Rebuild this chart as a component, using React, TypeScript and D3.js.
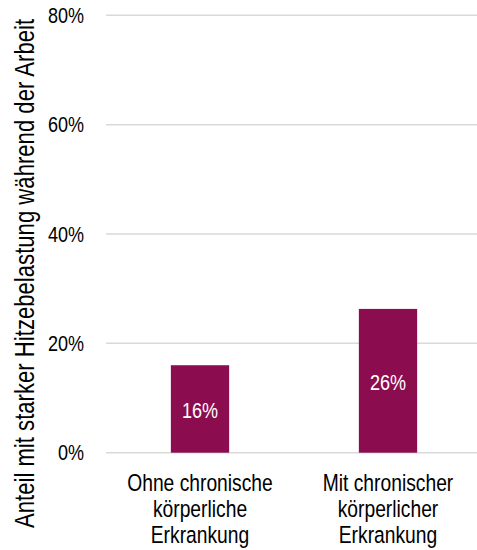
import React from 'react'
import * as d3 from 'd3'

const categories = [
  ['Ohne chronische', 'körperliche', 'Erkrankung'],
  ['Mit chronischer', 'körperlicher', 'Erkrankung'],
]
const values = [0.16, 0.263]
const labels = ['16%', '26%']
const yTicks = [0, 0.2, 0.4, 0.6, 0.8]
const yTitle = 'Anteil mit starker Hitzebelastung während der Arbeit'

const W = 477
const H = 550
const FONT = '"Liberation Sans", Arial, sans-serif'
const SX = 0.82 // narrow look, like Arial Narrow

// text drawn squeezed horizontally
function NText({ x, y, rot = 0, size, anchor = 'middle', fill = '#000', children }: any) {
  return (
    <text transform={`translate(${x},${y}) rotate(${rot}) scale(${SX},1)`} textAnchor={anchor}
      fontSize={size} fill={fill} dy="0.35em">
      {children}
    </text>
  )
}

export default function App() {
  const x = d3.scaleBand<number>()
    .domain(d3.range(values.length))
    .range([106, 482])
    .paddingInner(0.69)
    .paddingOuter(0.345)
  const y = d3.scaleLinear().domain([0, 0.8]).range([452.7, 15.3])

  return (
    <svg width={W} height={H} style={{ position: 'absolute', left: 0, top: 0 }} fontFamily={FONT}>
      {/* gridlines + tick labels */}
      {yTicks.map(t => (
        <g key={t}>
          <line x1={106} x2={W} y1={y(t)} y2={y(t)} stroke="#d9d9d9" strokeWidth={1.5} />
          <NText x={84} y={y(t)} size={22} anchor="end">{d3.format('.0%')(t)}</NText>
        </g>
      ))}

      {/* bars */}
      {values.map((v, i) => {
        const cx = x(i)! + x.bandwidth() / 2
        return (
          <g key={i}>
            <rect x={x(i)} y={y(v)} width={x.bandwidth()} height={y(0) - y(v)} fill="#8c0d4f" />
            <NText x={cx} y={(y(v) + y(0)) / 2 + 1} size={22} fill="#fff">{labels[i]}</NText>
            {categories[i].map((line, j) => (
              <NText key={j} x={cx} y={483 + j * 26} size={23.5}>{line}</NText>
            ))}
          </g>
        )
      })}

      {/* y title */}
      <NText x={24.5} y={273.5} rot={-90} size={27}>{yTitle}</NText>
    </svg>
  )
}
